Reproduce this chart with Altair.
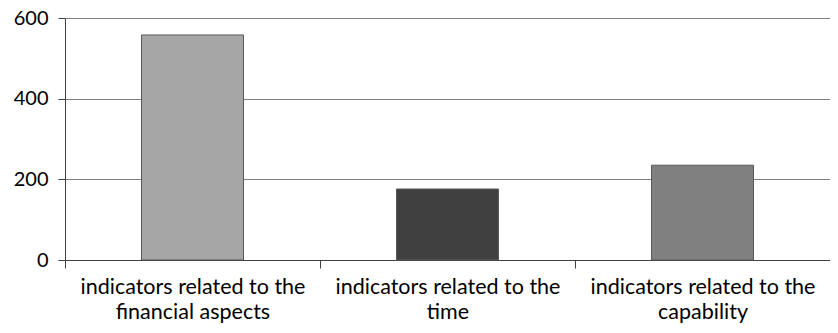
import altair as alt
import pandas as pd

categories = [
    "indicators related to the financial aspects",
    "indicators related to the time",
    "indicators related to the capability",
]
values = [558, 176, 235]
colors = ["#a6a6a6", "#404040", "#808080"]

df = pd.DataFrame({"category": categories, "value": values, "color": colors})

FONT = "Lato"

chart = (
    alt.Chart(df)
    .mark_bar(stroke="#595959", strokeWidth=1, width=alt.RelativeBandSize(0.4))
    .encode(
        x=alt.X(
            "category:N",
            sort=categories,
            scale=alt.Scale(paddingInner=0, paddingOuter=0),
            axis=alt.Axis(
                title=None,
                labelAngle=0,
                ticks=True,
                tickBand="extent",
                tickSize=8,
                tickWidth=1,
                tickColor="#404040",
                domainColor="#404040",
                labelFont=FONT,
                labelFontSize=21.5,
                labelColor="#000000",
                labelPadding=8,
                labelLimit=400,
                labelLineHeight=25,
                labelBaseline="top",
                labelExpr="[substring(datum.label, 0, indexof(datum.label, ' the ') + 4), substring(datum.label, indexof(datum.label, ' the ') + 5)]",
                grid=False,
            ),
        ),
        y=alt.Y(
            "value:Q",
            scale=alt.Scale(domain=[0, 600], nice=False),
            axis=alt.Axis(
                title=None,
                values=[0, 200, 400, 600],
                tickSize=7,
                tickColor="#404040",
                domainColor="#404040",
                labelFont=FONT,
                labelFontSize=20,
                labelColor="#000000",
                labelPadding=10,
                gridColor="#808080",
                gridOpacity=1,
            ),
        ),
        color=alt.Color("color:N", scale=None),
    )
    .properties(
        width=765,
        height=242,
        autosize=alt.AutoSizeParams(type="none"),
        padding={"left": 57, "top": 10, "right": 0, "bottom": 65},
    )
    .configure_view(stroke=None)
)

chart.save("out.html", embed_options={"renderer": "svg", "actions": False})
